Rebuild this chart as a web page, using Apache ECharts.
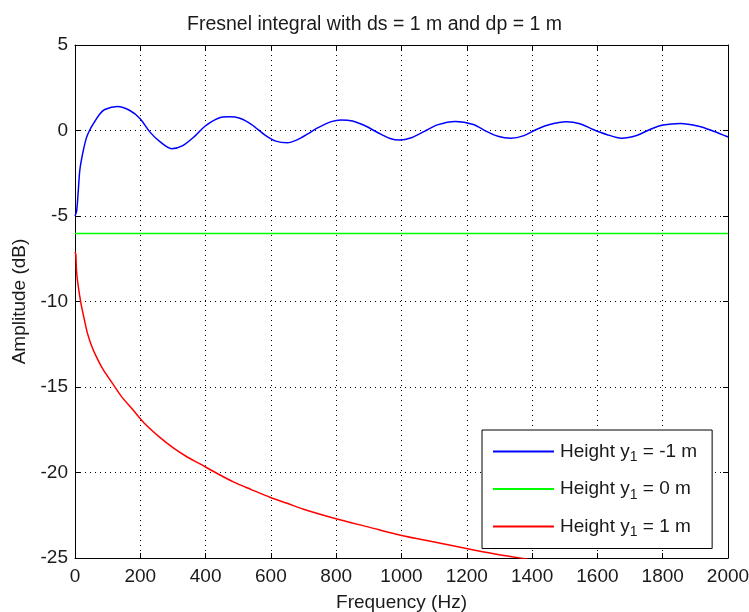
<!DOCTYPE html>
<html>
<head>
<meta charset="utf-8">
<script src="https://cdn.jsdelivr.net/npm/echarts@6/dist/echarts.min.js"></script>
<style>html,body{margin:0;padding:0;background:#fff}#c{width:749px;height:612px}</style>
</head>
<body>
<div id="c"></div>
<script>
const titleText = 'Fresnel integral with ds = 1 m and dp = 1 m';
const xName = 'Frequency (Hz)';
const yName = 'Amplitude (dB)';
const xTicks = [0,200,400,600,800,1000,1200,1400,1600,1800,2000];
const yTicks = [5,0,-5,-10,-15,-20,-25];
const seriesNames = ['Height y_1 = -1 m','Height y_1 = 0 m','Height y_1 = 1 m'];
const seriesColors = ['#0000ff','#00ff00','#ff0000'];

const blueFreq = [0,5,10,15,25,35,46,61,76,91,130,168,199,229,260,296,330,367,398,439,472,505,541,582,615,650,680,713,740,785,815,850,887,928,965,995,1030,1070,1110,1165,1220,1260,1295,1335,1375,1413,1454,1505,1546,1587,1628,1674,1720,1761,1801,1855,1910,1950,1995,2000];
const blueAmp = [-5.0,-4.71,-3.54,-2.28,-1.21,-0.43,0.06,0.54,0.97,1.23,1.4,1.17,0.70,-0.08,-0.65,-1.06,-0.88,-0.33,0.25,0.72,0.8,0.72,0.35,-0.27,-0.62,-0.72,-0.55,-0.2,0.12,0.52,0.62,0.56,0.29,-0.13,-0.47,-0.56,-0.42,-0.05,0.33,0.53,0.35,-0.05,-0.34,-0.45,-0.3,0.06,0.35,0.51,0.4,0.06,-0.23,-0.45,-0.29,0.06,0.32,0.41,0.25,0.0,-0.34,-0.38];

const greenFreq = [0,2000];
const greenAmp = [-6.02,-6.02];

const redFreq = [0,2.5,4.6,9.8,17.8,28,38,51,66,86,117,142,178,214,260,300,340,383,430,485,540,597,650,700,791,903,1000,1108,1199,1291,1373,1450];
const redAmp = [-7.1,-7.23,-8.2,-9.09,-10.06,-11.0,-11.85,-12.6,-13.25,-13.97,-14.85,-15.55,-16.35,-17.15,-17.95,-18.55,-19.05,-19.5,-20.0,-20.55,-21.0,-21.45,-21.8,-22.15,-22.66,-23.21,-23.68,-24.09,-24.45,-24.78,-25.03,-25.3];

const pairs = (xs, ys) => xs.map((x, i) => [x, ys[i]]);
const font = 'Liberation Sans, Arial, sans-serif';
const txt = '#1a1a1a';
const fs = 19;

const chart = echarts.init(document.getElementById('c'), null, {renderer: 'canvas'});
const axisCommon = {
  type: 'value',
  axisLine: {show: true, onZero: false, lineStyle: {color: '#000', width: 1}},
  axisTick: {show: true, inside: true, length: 5, lineStyle: {color: '#000'}},
  splitLine: {show: false}
};
chart.setOption({
  animation: false,
  backgroundColor: '#fff',
  title: {
    text: titleText, left: 'center', top: 10,
    textStyle: {fontFamily: font, fontSize: 19.5, fontWeight: 'normal', color: txt}
  },
  grid: {left: 75, right: 21, top: 45, bottom: 54, containLabel: false, outerBoundsMode: 'none'},
  legend: {
    orient: 'vertical', left: 482, top: 430,
    backgroundColor: '#fff', borderColor: '#000', borderWidth: 1,
    padding: [12, 15, 9, 11], itemGap: 15, itemWidth: 61, itemHeight: 2,
    icon: 'rect',
    data: seriesNames,
    formatter: n => n.replace('y_1', 'y{sub|1}'),
    textStyle: {
      fontFamily: font, fontSize: fs, color: txt, padding: [0, 0, 0, 1],
      rich: {sub: {fontFamily: font, fontSize: 14, color: txt, padding: [12, 0, 0, 0]}}
    }
  },
  xAxis: [
    Object.assign({}, axisCommon, {
      position: 'bottom', min: xTicks[0], max: xTicks[xTicks.length-1], interval: 200,
      name: xName, nameLocation: 'middle', nameGap: 35,
      nameTextStyle: {fontFamily: font, fontSize: fs, color: txt},
      axisLabel: {fontFamily: font, fontSize: fs, color: txt, margin: 9, formatter: v => String(v)},
      splitLine: {show: true, lineStyle: {color: '#000', type: [1, 4], width: 1}}
    }),
    Object.assign({}, axisCommon, {
      position: 'top', min: xTicks[0], max: xTicks[xTicks.length-1], interval: 200,
      axisLabel: {show: false}
    })
  ],
  yAxis: [
    Object.assign({}, axisCommon, {
      position: 'left', min: yTicks[yTicks.length-1], max: yTicks[0], interval: 5,
      name: yName, nameLocation: 'middle', nameGap: 44,
      nameTextStyle: {fontFamily: font, fontSize: fs, color: txt},
      axisLabel: {fontFamily: font, fontSize: fs, color: txt, margin: 7},
      splitLine: {show: true, lineStyle: {color: '#000', type: [1, 4], width: 1}}
    }),
    Object.assign({}, axisCommon, {
      position: 'right', min: yTicks[yTicks.length-1], max: yTicks[0], interval: 5,
      axisLabel: {show: false}
    })
  ],
  series: [
    {name: seriesNames[0], type: 'line', data: pairs(blueFreq, blueAmp), smooth: 0.3, symbol: 'none',
     color: seriesColors[0], lineStyle: {color: seriesColors[0], width: 1.5}, clip: true},
    {name: seriesNames[1], type: 'line', data: pairs(greenFreq, greenAmp), symbol: 'none',
     color: seriesColors[1], lineStyle: {color: seriesColors[1], width: 1.5}, clip: true},
    {name: seriesNames[2], type: 'line', data: pairs(redFreq, redAmp), smooth: 0.3, symbol: 'none',
     color: seriesColors[2], lineStyle: {color: seriesColors[2], width: 1.5}, clip: true}
  ]
});
</script>
</body>
</html>
